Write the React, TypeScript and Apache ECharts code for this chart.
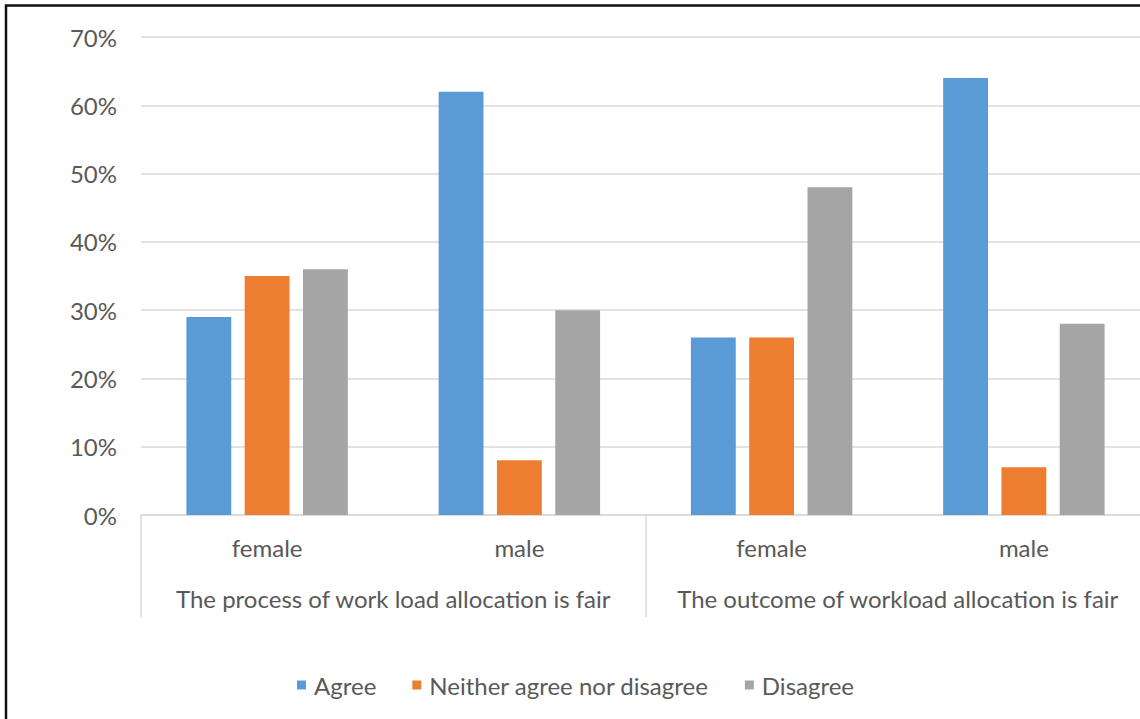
import React, { useEffect, useRef } from "react";
import * as echarts from "echarts";

const subCategories = ["female", "male", "female", "male"];
const groupCategories = [
  "The process of work load allocation is fair",
  "The outcome of workload allocation is fair",
];
const agree = [29, 62, 26, 64];
const neither = [35, 8, 26, 7];
const disagree = [36, 30, 48, 28];
const seriesNames = ["Agree", "Neither agree nor disagree", "Disagree"];
const colors = ["#5b9bd5", "#ed7d31", "#a5a5a5"];

const FONT = "Lato";
const TEXT = "#595959";
const FS = 24;

export default function App() {
  const ref = useRef<HTMLDivElement>(null);
  useEffect(() => {
    if (!ref.current) return;
    const chart = echarts.init(ref.current, undefined, { renderer: "svg" });
    const barCommon = {
      type: "bar" as const,
      xAxisIndex: 0,
      barGap: "30%",
      barCategoryGap: "36%",
    };
    chart.setOption({
      animation: false,
      backgroundColor: "#ffffff",
      textStyle: { fontFamily: FONT, color: TEXT },
      grid: { left: 141, top: 37, width: 1009, height: 478, containLabel: false },
      legend: {
        data: seriesNames,
        left: 292,
        top: 668,
        icon: "rect",
        itemWidth: 9,
        itemHeight: 9,
        itemGap: 36,
        textStyle: { fontFamily: FONT, fontSize: FS, color: TEXT, padding: [0, 0, 0, 3] },
      },
      xAxis: [
        {
          type: "category",
          data: subCategories,
          position: "bottom",
          axisLine: { show: true, lineStyle: { color: "#d9d9d9", width: 1.5 } },
          axisTick: { show: false },
          axisLabel: { interval: 0, margin: 20, fontFamily: FONT, fontSize: FS, color: TEXT },
        },
        {
          type: "category",
          data: groupCategories,
          position: "bottom",
          axisLine: { show: false },
          axisTick: {
            show: true,
            interval: 0,
            length: 102,
            lineStyle: { color: "#d9d9d9", width: 1.5 },
          },
          axisLabel: {
            interval: 0,
            hideOverlap: false,
            margin: 71,
            fontFamily: FONT,
            fontSize: FS,
            color: TEXT,
          },
        },
      ],
      yAxis: {
        type: "value",
        min: 0,
        max: 70,
        interval: 10,
        axisLine: { show: false },
        axisTick: { show: false },
        splitLine: { lineStyle: { color: "#d9d9d9", width: 1.5 } },
        axisLabel: {
          formatter: "{value}%",
          margin: 24,
          fontFamily: FONT,
          fontSize: FS,
          color: TEXT,
        },
      },
      series: [
        { ...barCommon, name: seriesNames[0], data: agree, itemStyle: { color: colors[0] } },
        { ...barCommon, name: seriesNames[1], data: neither, itemStyle: { color: colors[1] } },
        { ...barCommon, name: seriesNames[2], data: disagree, itemStyle: { color: colors[2] } },
      ],
      graphic: [
        {
          type: "polyline",
          shape: { points: [[6, 719], [6, 5.5], [1170, 5.5]] },
          style: { stroke: "#111111", lineWidth: 2.5, fill: "none" },
          silent: true,
        },
      ],
    });
    return () => chart.dispose();
  }, []);
  return (
    <div
      style={{
        position: "absolute",
        left: 0,
        top: 0,
        width: 1140,
        height: 719,
        overflow: "hidden",
        background: "#ffffff",
      }}
    >
      <div ref={ref} style={{ width: 1170, height: 719 }} />
    </div>
  );
}
